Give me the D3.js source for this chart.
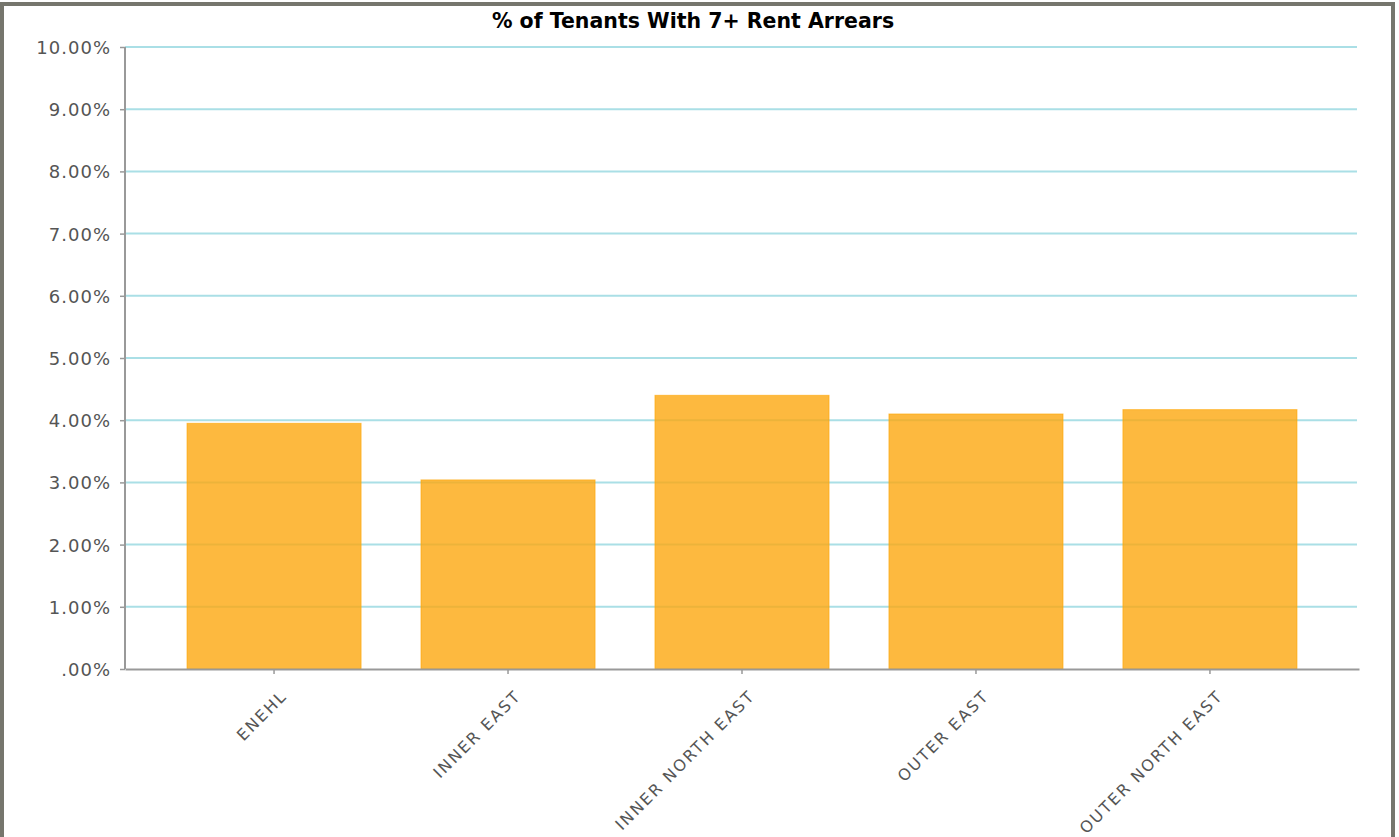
<!DOCTYPE html>
<html>
<head>
<meta charset="utf-8">
<script src="https://cdn.jsdelivr.net/npm/d3@7"></script>
<style>
  body { margin: 0; background: #fff; }
  .tick text { font-family: "DejaVu Sans", Verdana, sans-serif; fill: #555; }
</style>
</head>
<body>
<div id="chart"></div>
<script>
// Chart data
var regions = ["ENEHL", "INNER EAST", "INNER NORTH EAST", "OUTER EAST", "OUTER NORTH EAST"];
var arrearsPct = [3.95, 3.04, 4.40, 4.10, 4.17];
var yTicks = [0, 1, 2, 3, 4, 5, 6, 7, 8, 9, 10];
var chartTitle = "% of Tenants With 7+ Rent Arrears";

var svgWidth = 1399;
var svgHeight = 837;

var margin = { top: 47, right: 40, bottom: 168, left: 125 };
var width = 1359 - margin.left;
var height = 669 - margin.top;

var svg = d3.select("#chart")
  .append("svg")
  .attr("width", svgWidth)
  .attr("height", svgHeight);

// outer frame
svg.append("rect")
  .attr("x", 2).attr("y", 4)
  .attr("width", 1391).attr("height", 840)
  .attr("fill", "none")
  .attr("stroke", "#76766d")
  .attr("stroke-width", 4);

svg.append("text")
  .attr("x", 693)
  .attr("y", 28)
  .attr("text-anchor", "middle")
  .attr("font-family", "DejaVu Sans, Verdana, sans-serif")
  .attr("font-weight", "bold")
  .attr("font-size", "20.5px")
  .attr("fill", "#000")
  .text(chartTitle);

var chartGroup = svg.append("g")
  .attr("transform", `translate(${margin.left}, ${margin.top})`);

// scales
var xBandScale = d3.scaleBand()
  .domain(regions)
  .range([0, width])
  .paddingInner(0.256)
  .paddingOuter(0.265);

var yLinearScale = d3.scaleLinear()
  .domain([0, 10])
  .range([height, 0]);

// gridlines
chartGroup.selectAll(".grid")
  .data(yTicks.filter(d => d > 0))
  .enter()
  .append("line")
  .attr("x1", 0)
  .attr("x2", width - 2)
  .attr("y1", d => yLinearScale(d))
  .attr("y2", d => yLinearScale(d))
  .attr("stroke", "#aadfe6")
  .attr("stroke-width", 2);

// bars
chartGroup.selectAll("rect.bar")
  .data(arrearsPct)
  .enter()
  .append("rect")
  .attr("class", "bar")
  .attr("x", (d, i) => xBandScale(regions[i]))
  .attr("y", d => yLinearScale(d))
  .attr("width", xBandScale.bandwidth())
  .attr("height", d => height - yLinearScale(d))
  .attr("fill", "#fca80f")
  .attr("fill-opacity", 0.8)
  .attr("stroke", "#ffa500")
  .attr("stroke-opacity", 0.6)
  .attr("stroke-width", 1);

// axes
var leftAxis = d3.axisLeft(yLinearScale)
  .tickValues(yTicks)
  .tickSize(5)
  .tickPadding(9)
  .tickFormat(d => d3.format(".2f")(d).replace(/^0/, "") + "%");

var bottomAxis = d3.axisBottom(xBandScale)
  .tickSize(5)
  .tickSizeOuter(0);

var yAxisG = chartGroup.append("g").call(leftAxis);
yAxisG.select(".domain").attr("stroke", "#999").attr("stroke-width", 2)
  .attr("d", `M0,0V${height}`);
yAxisG.selectAll(".tick line").attr("stroke", "#999").attr("stroke-width", 1.5);
yAxisG.selectAll(".tick text")
  .attr("font-size", "18px")
  .attr("letter-spacing", "1px")
  .attr("dy", "0.36em");

var xAxisG = chartGroup.append("g")
  .attr("transform", `translate(0, ${height})`)
  .call(bottomAxis);
xAxisG.select(".domain").attr("stroke", "#999").attr("stroke-width", 2);
xAxisG.selectAll(".tick line").attr("stroke", "#999").attr("stroke-width", 1.5);
xAxisG.selectAll(".tick text")
  .attr("font-size", "16px")
  .attr("letter-spacing", "2px")
  .attr("text-anchor", "end")
  .attr("x", 0).attr("y", 0).attr("dy", 0)
  .attr("transform", "translate(14, 28) rotate(-45)");
</script>
</body>
</html>
